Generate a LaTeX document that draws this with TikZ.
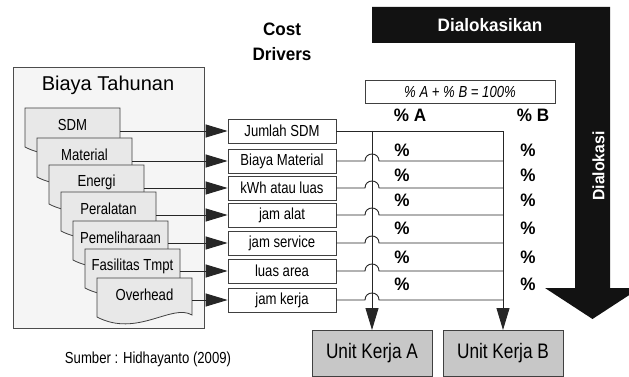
\documentclass[tikz,border=0pt]{standalone}
\usepackage{fontspec}
\setmainfont{Liberation Sans}
\newfontfamily\nf{Liberation Sans}[FakeStretch=0.82]
\newfontfamily\nbf{Liberation Sans}[FakeStretch=0.95]
\usetikzlibrary{arrows.meta,calc}
\newcommand\fsz[1]{\fontsize{#1}{#1}\selectfont}
\tikzset{
  docst/.style={draw=black!75, fill=black!9, line width=0.8pt},
  doclbl/.style={font=\nf\fsz{16}, inner sep=0pt},
  drv/.style={draw=black!75, fill=white, line width=0.8pt, minimum width=108pt, minimum height=24pt, inner sep=0pt, font=\nf\fsz{16}},
  conn/.style={line width=0.9pt, draw=black!85},
  arr/.style={-{Triangle[length=22pt,width=13pt]}},
  pct/.style={font=\nbf\bfseries\fsz{18}, inner sep=0pt},
  unitbox/.style={draw=black!75, fill=black!22, line width=0.8pt, minimum width=120pt, minimum height=46pt, anchor=north, inner sep=0pt, font=\nf\fsz{21}}
}
\newcommand\docbox[5]{%
  \begin{scope}[shift={(#1,#2)}]
    \draw[docst] (0,0) -- (95,0) -- (95,37) .. controls (75,25) and (40,60) .. (0,39) -- cycle;
    \coordinate (#3) at (95,0);
    \node[doclbl] (#5) at (47.5,17) {#4};
  \end{scope}}
\begin{document}
\begin{tikzpicture}[x=1pt,y=-1pt]
\useasboundingbox (0,0) rectangle (629,377);
\fill[white] (0,0) rectangle (629,377);

% big black allocation arrow
\fill[black!93] (372,7) -- (610,7) -- (610,288) -- (640,288) -- (592.5,319) -- (545,288) -- (575,288) -- (575,43) -- (372,43) -- cycle;
\node[font=\nbf\bfseries\fsz{18}, text=white, inner sep=0pt] (dk) at (490,25) {Dialokasikan};
\node[font=\nbf\bfseries\fsz{16.5}, text=white, rotate=90, inner sep=0pt] (dl) at (598.5,166) {Dialokasi};

% Biaya Tahunan box
\node[draw=black!70, fill=black!4, line width=0.8pt, minimum width=191pt, minimum height=261pt, inner sep=0pt] (bt) at (108.5,197.5) {};
\node[font=\fsz{20}, inner sep=0pt] (btt) at (108,85) {Biaya Tahunan};

\docbox{25}{108}{s1}{SDM}{c1}
\docbox{37}{138}{s2}{Material}{c2}
\docbox{49}{165}{s3}{Energi}{c3}
\docbox{61}{192}{s4}{Peralatan}{c4}
\docbox{73}{221}{s5}{Pemeliharaan}{c5}
\docbox{85}{249}{s6}{Fasilitas Tmpt}{c6}
\docbox{97}{278}{s7}{Overhead}{c7}

% cost drivers
\node[font=\nbf\bfseries\fsz{18}, align=center, inner sep=0pt] (cd) at (282,41.5) {Cost\\[7pt]Drivers};
\node[drv] (d1) at (282,131) {Jumlah SDM};
\node[drv] (d2) at (282,161) {Biaya Material};
\node[drv] (d3) at (282,188) {kWh atau luas};
\node[drv] (d4) at (282,215) {jam alat};
\node[drv] (d5) at (282,243) {jam service};
\node[drv] (d6) at (282,271) {luas area};
\node[drv] (d7) at (282,300) {jam kerja};

\foreach \i in {1,...,7}{
  \draw[conn, arr] (s\i |- d\i.west) -- (d\i.west);
}

% formula and headers
\node[draw=black!75, line width=0.8pt, minimum width=190pt, minimum height=23pt, inner sep=0pt, font=\nf\itshape\fsz{16}] (fm) at (460,91.5) {\% A + \% B = 100\%};
\node[pct] (ha) at (410,115) {\% A};
\node[pct] (hb) at (533,115) {\% B};

% units
\node[unitbox] (ua) at (372,330) {Unit Kerja A};
\node[unitbox] (ub) at (503,330) {Unit Kerja B};

% connector lines
\coordinate (ax) at (372,131);
\coordinate (bx) at (503,131);
\draw[conn, arr] (d1.east) -- (bx) -- (ub.north);
\draw[conn, arr] (ax) -- (ua.north);
\foreach \i in {2,...,7}{
  \draw[conn] (d\i.east) -- ($(ax |- d\i.east)+(-7,0)$) .. controls +(0,-9.3) and +(0,-9.3) .. ($(ax |- d\i.east)+(7,0)$) -- (bx |- d\i.east);
}

% percent labels
\foreach \y [count=\k] in {150,175,200,228,257,284}{
  \node[pct] (pa\k) at (402,\y) {\%};
  \node[pct] (pb\k) at (528,\y) {\%};
}

\node[font=\nf\fsz{16}, inner sep=0pt] (src) at (148,359) {Sumber : Hidhayanto (2009)};
\end{tikzpicture}
\end{document}
